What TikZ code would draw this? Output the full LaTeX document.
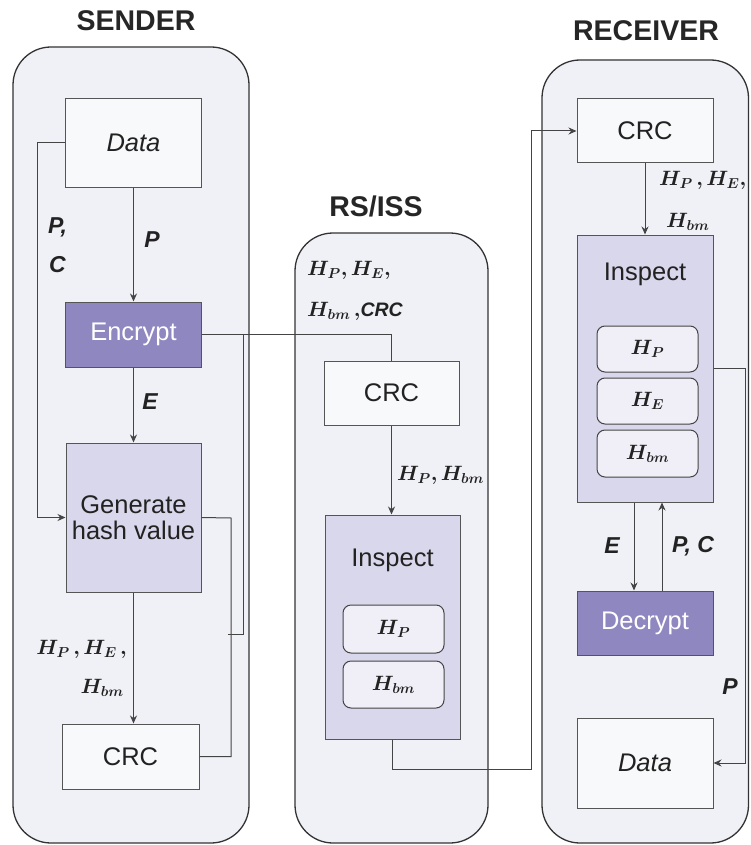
\documentclass[tikz,border=0pt]{standalone}
\usepackage{fontspec}
\usepackage{amsmath,bm}
\setmainfont{Liberation Sans}
\usetikzlibrary{arrows.meta,positioning}
\definecolor{contfill}{HTML}{F0F1F6}
\definecolor{wfill}{HTML}{F8F9FB}
\definecolor{purp}{HTML}{8F88C0}
\definecolor{lpurp}{HTML}{D9D7EB}
\definecolor{ifill}{HTML}{F0EFF7}
\definecolor{txt}{HTML}{222222}
\definecolor{edge}{HTML}{555555}
\newcommand\boxfont{\fontsize{25.5}{26}\selectfont}
\newcommand\labfont{\fontsize{23}{26}\selectfont\bfseries\itshape}
\newcommand\mfont{\fontsize{19.5}{24}\selectfont}
\newcommand\titfont{\fontsize{28.5}{32}\selectfont\bfseries}
\tikzset{
  x=1pt,y=-1pt,
  cont/.style={draw=black!80, line width=1.3pt, fill=contfill, rounded corners=38pt},
  wbox/.style={draw=edge, line width=1pt, fill=wfill, inner sep=0pt, font=\boxfont, text=txt},
  pbox/.style={draw=edge, line width=1pt, fill=purp, inner sep=0pt, font=\boxfont, text=white},
  lbox/.style={draw=edge, line width=1pt, fill=lpurp, inner sep=0pt, font=\boxfont, text=txt},
  ibox/.style={draw=edge!80!black, line width=1pt, fill=ifill, rounded corners=8pt, inner sep=0pt, minimum width=101pt, font=\mfont, text=txt},
  conn/.style={draw=edge!80!black, line width=1pt},
  arr/.style={conn, -{Stealth[length=8pt,width=7pt]}},
  lab/.style={font=\labfont, text=txt, inner sep=0pt},
  mlab/.style={font=\mfont, text=txt, inner sep=0pt},
  tit/.style={font=\titfont, text=black!85, inner sep=0pt},
}
\begin{document}
\begin{tikzpicture}
\useasboundingbox (0,0) rectangle (750,845);
% containers
\draw[cont] (13,47) rectangle (249,843);
\draw[cont] (295,233) rectangle (488,843);
\draw[cont] (542,60) rectangle (748.5,843);
\node[tit] (tS) at (136,21) {SENDER};
\node[tit] (tR) at (376,206) {RS/ISS};
\node[tit] (tC) at (646,31) {RECEIVER};
% sender
\node[wbox, minimum width=136pt, minimum height=88pt] (sData) at (133.5,143) {\itshape Data};
\node[pbox, minimum width=136pt, minimum height=65pt] (sEnc) at (133.5,334.5) {Encrypt};
\node[lbox, minimum width=135pt, minimum height=149pt, align=center] (sHash) at (133.5,517.5) {Generate\\hash value};
\node[wbox, minimum width=137pt, minimum height=65pt] (sCRC) at (130.5,756.5) {CRC};
% rs/iss
\node[wbox, minimum width=135pt, minimum height=64pt] (rsCRC) at (391.5,393) {CRC};
\node[lbox, minimum width=135pt, minimum height=224pt] (rsInsp) at (392.5,627) {};
\node[font=\boxfont, text=txt] (rsInspT) at (392.5,560) {Inspect};
\node[ibox, minimum height=48pt] (rsHP) at (393.5,629) {$\bm{H_P}$};
\node[ibox, minimum height=47pt] (rsHbm) at (393.5,684.5) {$\bm{H_{bm}}$};
% receiver
\node[wbox, minimum width=136pt, minimum height=64pt] (rCRC) at (645,131) {CRC};
\node[lbox, minimum width=136pt, minimum height=267pt] (rInsp) at (645,368.5) {};
\node[font=\boxfont, text=txt] (rInspT) at (645,274) {Inspect};
\node[ibox, minimum height=46pt] (rHP) at (647.5,349) {$\bm{H_P}$};
\node[ibox, minimum height=46pt] (rHE) at (647.5,401) {$\bm{H_E}$};
\node[ibox, minimum height=47pt] (rHbm) at (647.5,453.5) {$\bm{H_{bm}}$};
\node[pbox, minimum width=136pt, minimum height=64pt] (rDec) at (645,623) {Decrypt};
\node[wbox, minimum width=136pt, minimum height=90pt] (rData) at (645,763) {\itshape Data};
% coordinates
\coordinate (cA) at (37,143);
\coordinate (cB) at (231,518);
\coordinate (cC) at (228,634);
\coordinate (cD) at (243,634);
\coordinate (cE) at (243,334.5);
\coordinate (cF) at (391.5,334.5);
\coordinate (cG) at (392.5,769);
\coordinate (cH) at (531,769);
\coordinate (cI) at (531,131);
\coordinate (cJ) at (745,368.5);
% sender connectors
\draw[arr] (sData.south) -- (sEnc.north);
\draw[arr] (sData.west) -- (cA) |- (sHash.west);
\draw[arr] (sEnc.south) -- (sHash.north);
\draw[arr] (sHash.south) -- (sHash.south |- sCRC.north);
\draw[conn] (sHash.east) -- (cB) |- (sCRC.east);
\draw[conn] (cC) -- (cD) -- (cE);
\draw[conn] (sEnc.east) -- (cF) -- (rsCRC.north);
% rs connectors
\draw[arr] (rsCRC.south) -- (rsCRC.south |- rsInsp.north);
\draw[conn] (rsInsp.south) -- (cG) -- (cH) -- (cI);
\draw[arr] (cI) -- (rCRC.west);
% receiver connectors
\draw[arr] (rCRC.south) -- (rInsp.north);
\draw[arr] ([xshift=-11pt]rInsp.south) -- ([xshift=-11pt]rDec.north);
\draw[arr] ([xshift=17pt]rDec.north) -- ([xshift=17pt]rInsp.south);
\draw[arr] (rInsp.east) -- (cJ) |- (rData.east);
% labels
\node[lab, anchor=west] (lPc) at (48,227) {P,};
\node[lab, anchor=west] (lC) at (49,265) {C};
\node[lab] (lP) at (152,240) {P};
\node[lab] (lE) at (150,402) {E};
\node[mlab, anchor=east] (lS1) at (127,649) {$\bm{H_P\,,H_E\,,}$};
\node[mlab, anchor=east] (lS2) at (124,688) {$\bm{H_{bm}}$};
\node[mlab, anchor=west] (lR1) at (307,270) {$\bm{H_P,H_E,}$};
\node[mlab, anchor=west] (lR2) at (307,311) {$\bm{H_{bm}\,,}$\textbf{\itshape CRC}};
\node[mlab, anchor=west] (lR3) at (397,475) {$\bm{H_P, H_{bm}}$};
\node[mlab, anchor=west] (lC1) at (659,180) {$\bm{H_P\,,H_E,}$};
\node[mlab, anchor=west] (lC2) at (666,222) {$\bm{H_{bm}}$};
\node[lab] (lE2) at (612,546) {E};
\node[lab] (lPC) at (693,546) {P, C};
\node[lab] (lP2) at (730,687) {P};
\end{tikzpicture}
\end{document}
